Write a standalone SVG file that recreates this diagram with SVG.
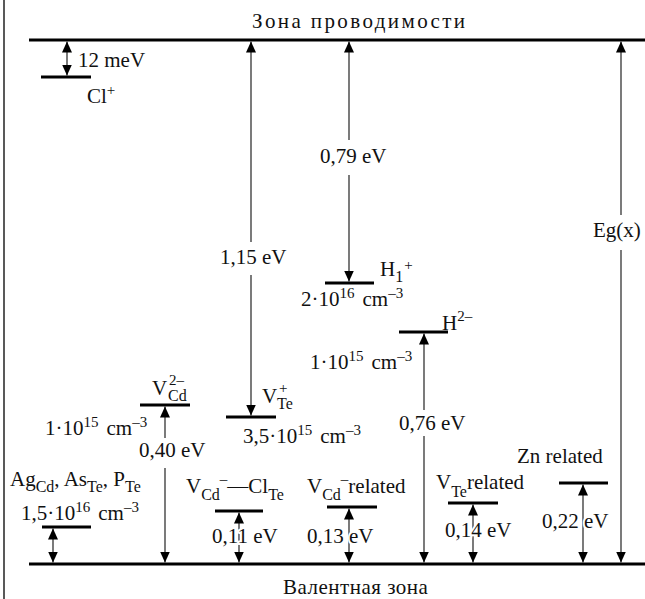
<svg xmlns="http://www.w3.org/2000/svg" width="645" height="599" viewBox="0 0 645 599">
<style>
text{font-family:"Liberation Serif","Times New Roman",serif;font-size:21px;fill:#111}
.s{font-size:15px}
.b{font-size:16px}
.h{stroke:#fff;stroke-width:4px;stroke-linejoin:round;paint-order:stroke}
.band{stroke:#000;stroke-width:3;fill:none}
.lvl{stroke:#000;stroke-width:3;fill:none}
.ar{stroke:#222;stroke-width:1.2;fill:none}
</style>
<defs>
<marker id="ah" viewBox="0 0 11 10" refX="11" refY="5" markerWidth="11" markerHeight="10" markerUnits="userSpaceOnUse" orient="auto-start-reverse"><path d="M0,0L11,5L0,10z" fill="#000"/></marker>
</defs>
<rect width="645" height="599" fill="#fff"/>
<line x1="4" y1="0" x2="4" y2="599" stroke="#222" stroke-width="1.5"/>

<g id="conduction-band">
<line class="band" x1="29" y1="40" x2="645" y2="40"/>
<text x="252" y="28" letter-spacing="2.4">Зона проводимости</text>
</g>
<g id="valence-band">
<line class="band" x1="29" y1="564" x2="645" y2="564"/>
<text x="283" y="594" letter-spacing="0.5">Валентная зона</text>
</g>

<g id="connectors">
<path class="ar" d="M67,41.5V75.5" marker-start="url(#ah)" marker-end="url(#ah)"/>
<path class="ar" d="M251,41.5V242" marker-start="url(#ah)"/>
<path class="ar" d="M251,275V415.5" marker-end="url(#ah)"/>
<path class="ar" d="M349,41.5V140" marker-start="url(#ah)"/>
<path class="ar" d="M349,175V281.5" marker-end="url(#ah)"/>
<path class="ar" d="M424,333.5V410" marker-start="url(#ah)"/>
<path class="ar" d="M424,436V562.5" marker-end="url(#ah)"/>
<path class="ar" d="M621,41.5V215" marker-start="url(#ah)"/>
<path class="ar" d="M621,250V562.5" marker-end="url(#ah)"/>
<path class="ar" d="M165,406.5V438" marker-start="url(#ah)"/>
<path class="ar" d="M165,468V562.5" marker-end="url(#ah)"/>
<path class="ar" d="M53,528.5V562.5" marker-start="url(#ah)" marker-end="url(#ah)"/>
<path class="ar" d="M239,512.5V562.5" marker-start="url(#ah)" marker-end="url(#ah)"/>
<path class="ar" d="M349,508.5V562.5" marker-start="url(#ah)" marker-end="url(#ah)"/>
<path class="ar" d="M473,504.5V562.5" marker-start="url(#ah)" marker-end="url(#ah)"/>
<path class="ar" d="M583,484.5V562.5" marker-start="url(#ah)" marker-end="url(#ah)"/>
</g>

<g id="energy-labels">
<text x="78" y="67">12 meV</text>
<text x="220" y="264">1,15 eV</text>
<text x="320" y="163">0,79 eV</text>
<text x="399" y="430">0,76 eV</text>
<text x="593" y="237">Eg(x)</text>
<text x="139" y="457">0,40 eV</text>
<text class="h" x="212" y="543">0,11 eV</text>
<text class="h" x="307" y="543">0,13 eV</text>
<text class="h" x="445" y="537">0,14 eV</text>
<text class="h" x="542" y="528">0,22 eV</text>
</g>

<g id="level-Cl">
<line class="lvl" x1="41" y1="77" x2="91" y2="77"/>
<text x="87" y="103">Cl<tspan class="s" dy="-8">+</tspan></text>
</g>

<g id="level-H1">
<line class="lvl" x1="325" y1="283" x2="374" y2="283"/>
<text x="380" y="276">H<tspan class="b" dy="6">1</tspan><tspan class="s" dy="-12" dx="1">+</tspan></text>
<text x="301" y="306">2·10<tspan class="s" dy="-8">16</tspan><tspan dx="8" dy="8">cm</tspan><tspan class="s" dy="-8">–3</tspan></text>
</g>

<g id="level-H2">
<line class="lvl" x1="399" y1="332" x2="448" y2="332"/>
<text x="442" y="330">H<tspan class="s" dy="-9">2–</tspan></text>
<text x="310" y="369">1·10<tspan class="s" dy="-8">15</tspan><tspan dx="8" dy="8">cm</tspan><tspan class="s" dy="-8">–3</tspan></text>
</g>

<g id="level-VTe">
<line class="lvl" x1="226" y1="417" x2="276" y2="417"/>
<text><tspan x="262" y="403">V</tspan><tspan class="s" x="279" y="393">+</tspan><tspan class="b" x="277" y="409">Te</tspan></text>
<text x="243" y="443">3,5·10<tspan class="s" dy="-8">15</tspan><tspan dx="8" dy="8">cm</tspan><tspan class="s" dy="-8">–3</tspan></text>
</g>

<g id="level-VCd">
<line class="lvl" x1="140" y1="405" x2="190" y2="405"/>
<text><tspan x="152" y="395">V</tspan><tspan class="s" x="169" y="385">2–</tspan><tspan class="b" x="168" y="401">Cd</tspan></text>
<text x="45" y="435">1·10<tspan class="s" dy="-8">15</tspan><tspan dx="8" dy="8">cm</tspan><tspan class="s" dy="-8">–3</tspan></text>
</g>

<g id="level-Ag">
<line class="lvl" x1="42" y1="527" x2="91" y2="527"/>
<text x="10" y="486">Ag<tspan class="b" dy="6">Cd</tspan><tspan dy="-6">, As</tspan><tspan class="b" dy="6">Te</tspan><tspan dy="-6">, P</tspan><tspan class="b" dy="6">Te</tspan></text>
<text x="21" y="520">1,5·10<tspan class="s" dy="-8">16</tspan><tspan dx="8" dy="8">cm</tspan><tspan class="s" dy="-8">–3</tspan></text>
</g>

<g id="level-VCd-ClTe">
<line class="lvl" x1="215" y1="511" x2="263" y2="511"/>
<text x="186" y="493">V<tspan class="b" dy="7">Cd</tspan><tspan class="s" dy="-16">–</tspan><tspan dy="9">—</tspan><tspan>Cl</tspan><tspan class="b" dy="7">Te</tspan></text>
</g>

<g id="level-VCd-related">
<line class="lvl" x1="327" y1="507" x2="377" y2="507"/>
<text x="307" y="493">V<tspan class="b" dy="7">Cd</tspan><tspan class="s" dy="-16">–</tspan><tspan dy="9">related</tspan></text>
</g>

<g id="level-VTe-related">
<line class="lvl" x1="448" y1="503" x2="498" y2="503"/>
<text x="436" y="489">V<tspan class="b" dy="8">Te</tspan><tspan dy="-8">related</tspan></text>
</g>

<g id="level-Zn">
<line class="lvl" x1="559" y1="483" x2="608" y2="483"/>
<text x="517" y="463">Zn related</text>
</g>
</svg>
